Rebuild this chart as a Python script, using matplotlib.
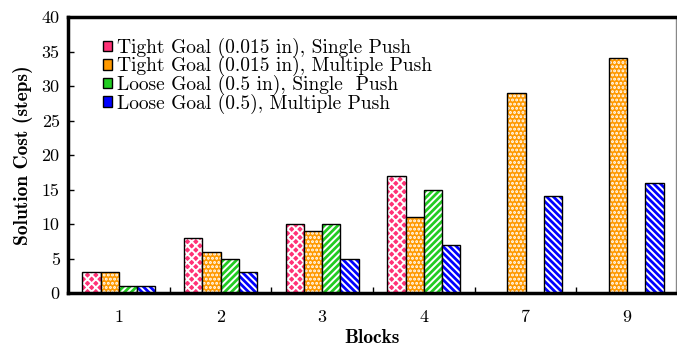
import numpy as np
import matplotlib
matplotlib.use("Agg")
import matplotlib.pyplot as plt
from matplotlib.patches import Patch

plt.rcParams['font.family'] = ['cmr10', 'DejaVu Serif']
plt.rcParams['axes.formatter.use_mathtext'] = True
plt.rcParams['hatch.linewidth'] = 1.4

blocks = ['1', '2', '3', '4', '7', '9']
tight_single = [3, 8, 10, 17, 0, 0]
tight_multi = [3, 6, 9, 11, 29, 34]
loose_single = [1, 5, 10, 15, 0, 0]
loose_multi = [1, 3, 5, 7, 14, 16]

series = [tight_single, tight_multi, loose_single, loose_multi]
labels = ['Tight Goal (0.015 in), Single Push',
          'Tight Goal (0.015 in), Multiple Push',
          'Loose Goal (0.5 in), Single  Push',
          'Loose Goal (0.5), Multiple Push']
colors = ['#ff3377', '#ff9900', '#22cc22', '#0000ff']
hatches = ['xxxx', '....', '/////', '\\\\\\\\\\']

fig = plt.figure(figsize=(6.77, 3.47), dpi=100)
ax = fig.add_axes([68/677, 1-293/347, (676-68)/677, (293-17)/347])

x = np.arange(len(blocks))
w = 0.18
handles = []
for i, vals in enumerate(series):
    pos = x + (i - 1.5) * w
    ax.bar(pos, vals, w, color=colors[i], edgecolor='white', hatch=hatches[i], linewidth=0)
    ax.bar(pos, vals, w, fill=False, edgecolor='black', linewidth=1.0)
    handles.append(Patch(facecolor=colors[i], edgecolor='black', linewidth=1.0, label=labels[i]))

ax.set_xlim(-0.5, 5.48)
ax.set_ylim(0, 40)
ax.set_xticks(x)
ax.set_xticklabels(blocks, fontsize=13)
ax.set_xticks(x[:-1] + 0.5, minor=True)
ax.tick_params(axis='x', which='major', length=0, pad=12)
ax.tick_params(axis='x', which='minor', direction='in', length=4, width=1)
ax.set_yticks(np.arange(0, 41, 5))
ax.set_yticklabels([str(v) for v in range(0, 41, 5)], fontsize=13)
ax.tick_params(axis='y', direction='in', length=4, width=1, pad=6)

for s in ['left', 'top', 'bottom']:
    ax.spines[s].set_linewidth(2.5)
ax.spines['right'].set_linewidth(1)
ax.spines['right'].set_color('#888888')

fig.text(372/677, 1-338/347, 'Blocks', fontsize=14, fontfamily='cmb10',
         ha='center', va='center')
ax.set_ylabel('Solution Cost (steps)', fontsize=14, fontfamily='cmb10', labelpad=6)

leg = ax.legend(handles=handles, loc='upper left', bbox_to_anchor=(0.058, 0.925),
                frameon=False, fontsize=14, handlelength=0.45, handleheight=0.45,
                handletextpad=0.25, labelspacing=-0.08, borderaxespad=0, borderpad=0)

fig.savefig('out.png', dpi=100)
